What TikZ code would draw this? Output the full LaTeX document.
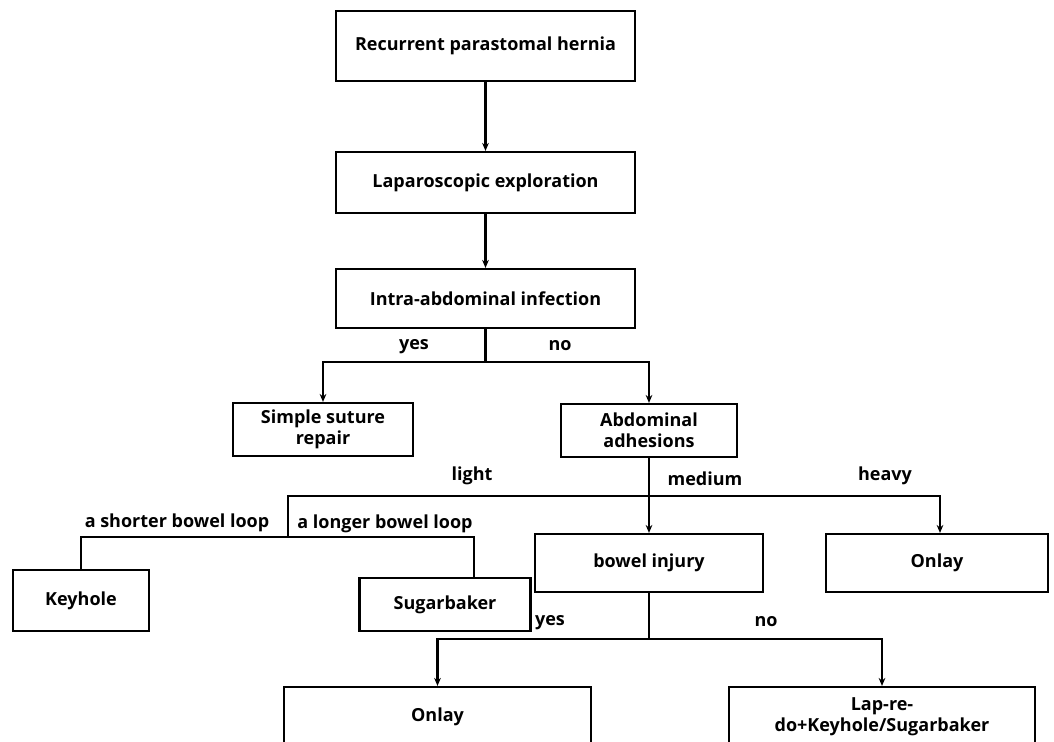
\documentclass[tikz,border=0pt]{standalone}
\usepackage{fontspec}
\setmainfont{Open Sans}
\usetikzlibrary{arrows.meta, calc}

\tikzset{
    box/.style={draw, line width=1.6pt, align=center, inner sep=2pt, font=\bfseries\fontsize{13.5}{16}\selectfont},
    lbl/.style={font=\bfseries\fontsize{13.5}{16}\selectfont, inner sep=0pt},
    arr/.style={-{Stealth[length=6pt, width=5pt]}},
    wire/.style={line width=1.6pt}
}

\begin{document}
\begin{tikzpicture}[x=0.75pt, y=-0.75pt]
    \useasboundingbox (0,0) rectangle (1054,742);
    \clip (0,0) rectangle (1054,742);
    % main column
    \node [box, minimum width=224.25pt, minimum height=52.5pt] (rph) at (485.5,46) {Recurrent parastomal hernia};
    \node [box, minimum width=224.25pt, minimum height=45.75pt] (lap) at (485.5,182.5) {Laparoscopic exploration};
    \node [box, minimum width=224.25pt, minimum height=44.25pt] (infec) at (485.5,298.5) {Intra-abdominal infection};
    \node [box, minimum width=135pt, minimum height=39.75pt] (simple) at (323,429.5) {Simple suture\\repair};
    \node [box, minimum width=132pt, minimum height=39.75pt] (adh) at (649,430.5) {Abdominal\\adhesions};
    % adhesion grades
    \node [box, minimum width=102pt, minimum height=45.75pt] (keyhole) at (81,600.5) {Keyhole};
    \node [box, minimum width=128.25pt, minimum height=39.75pt] (sugar) at (445,604.5) {Sugarbaker};
    \node [box, minimum width=171pt, minimum height=43.5pt] (injury) at (649,563) {bowel injury};
    \node [box, minimum width=166.5pt, minimum height=43.5pt] (onlayr) at (937,563) {Onlay};
    \node [box, minimum width=230.25pt, minimum height=45pt] (onlayb) at (437.5,717) {Onlay};
    \node [box, minimum width=229.5pt, minimum height=45pt] (lapre) at (882,717) {Lap-re-\\do+Keyhole/Sugarbaker};

    % junctions
    \coordinate (j1) at (485.5,362);
    \coordinate (j2) at (649,496);
    \coordinate (j3) at (288,537);
    \coordinate (j4) at (649,639);

    \draw [wire, arr] (rph) -- (lap);
    \draw [wire, arr] (lap) -- (infec);
    \draw [wire] (infec) -- (j1);
    \draw [wire, arr] (j1) -| (simple.north);
    \draw [wire, arr] (j1) -| (adh.north);
    \draw [wire, arr] (adh) -- (injury);
    \draw [wire, arr] (j2) -| ([xshift=2.25pt]onlayr.north);
    \draw [wire] (j2) -| (j3);
    \draw [wire] (j3) -| (keyhole.north);
    \draw [wire] (j3) -| ([xshift=21.75pt]sugar.north);
    \draw [wire] (injury) -- (j4);
    \draw [wire, arr] (j4) -| (onlayb.north);
    \draw [wire, arr] (j4) -| (lapre.north);

    % branch labels
    \node [lbl] (yes1) at (414,347) {yes};
    \node [lbl] (no1) at (560,346) {no};
    \node [lbl] (light) at (472,476) {light};
    \node [lbl] (medium) at (705,479) {medium};
    \node [lbl] (heavy) at (885,476) {heavy};
    \node [lbl] (shorter) at (177,523) {a shorter bowel loop};
    \node [lbl] (longer) at (385,524) {a longer bowel loop};
    \node [lbl] (yes2) at (550,623) {yes};
    \node [lbl] (no2) at (766,622) {no};
\end{tikzpicture}
\end{document}
